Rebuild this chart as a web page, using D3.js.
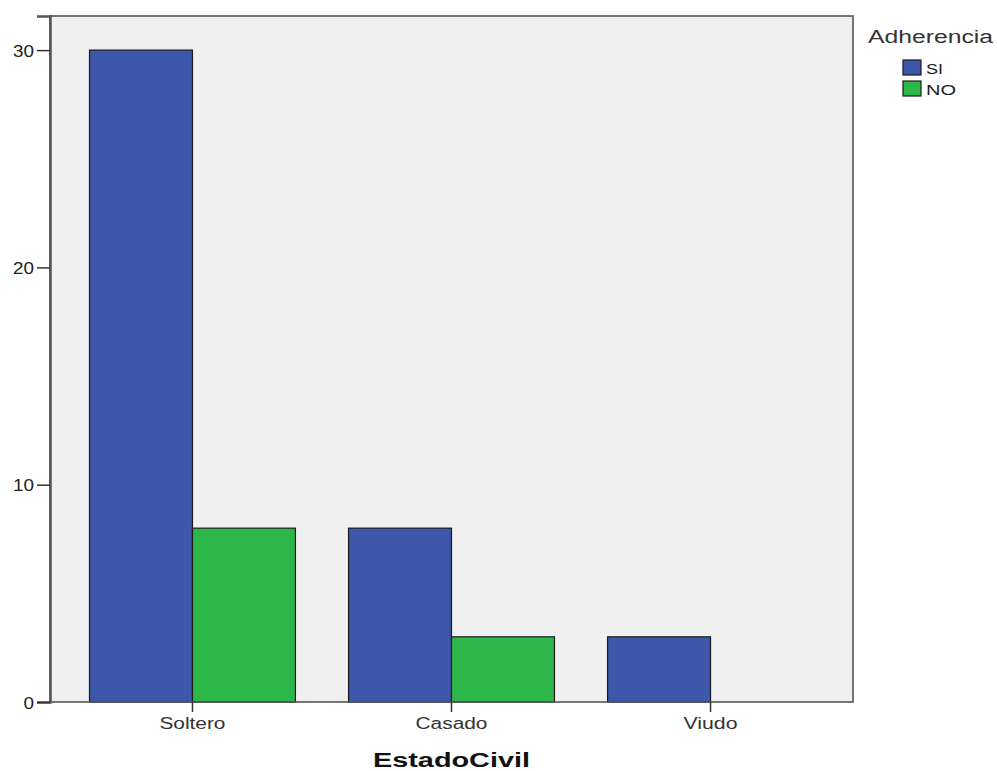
<!DOCTYPE html>
<html><head><meta charset="utf-8">
<script src="https://cdn.jsdelivr.net/npm/d3@7"></script>
<style>body{margin:0;background:#fff;} svg{display:block;font-family:"Liberation Sans",Arial,sans-serif;}</style>
</head><body>
<svg id="c" width="997" height="771"></svg>
<script>
const categories = ["Soltero", "Casado", "Viudo"];
const seriesNames = ["SI", "NO"];
const valuesSI = [30, 8, 3];
const valuesNO = [8, 3, 0];
const yTicks = [0, 10, 20, 30];
const colors = ["#3d57aa", "#2db64a"];

const svg = d3.select("#c");
const L = 50, R = 853, T = 16, B = 702;
const x = d3.scaleBand().domain(categories).range([L, R]).paddingInner(0).paddingOuter(0.05);
const y = d3.scaleLinear().domain([0, 31.57]).range([B, T]);
const groupW = x.bandwidth() * 0.795;
const sub = d3.scaleBand().domain(seriesNames).range([0, groupW]);

svg.append("rect").attr("x", L).attr("y", T).attr("width", R - L).attr("height", B - T)
  .attr("fill", "#f0f0f0");

const data = [];
categories.forEach((c, i) => {
  data.push({c, s: "SI", v: valuesSI[i]});
  data.push({c, s: "NO", v: valuesNO[i]});
});
svg.append("g").selectAll("rect").data(data.filter(d => d.v > 0)).join("rect")
  .attr("x", d => x(d.c) + (x.bandwidth() - groupW) / 2 + sub(d.s))
  .attr("y", d => y(d.v))
  .attr("width", sub.bandwidth())
  .attr("height", d => y(0) - y(d.v))
  .attr("fill", d => colors[seriesNames.indexOf(d.s)])
  .attr("stroke", "#1a1a1a").attr("stroke-width", 1.2);

svg.append("rect").attr("x", L).attr("y", T).attr("width", R - L).attr("height", B - T)
  .attr("fill", "none").attr("stroke", "#555").attr("stroke-width", 1.6);

const fam = "Liberation Sans, Arial, sans-serif";

// Y axis
const ya = svg.append("g").attr("transform", `translate(${L},0)`)
  .call(d3.axisLeft(y).tickValues(yTicks).tickSize(13).tickPadding(3).tickFormat(d3.format("d")));
ya.select(".domain").attr("stroke", "#555").attr("stroke-width", 2.5);
ya.selectAll(".tick line").attr("stroke", "#333").attr("stroke-width", 1.5);
ya.selectAll(".tick text").attr("font-size", 17).attr("fill", "#222").attr("font-family", fam)
  .attr("dy", "0.36em")
  .each(function(d) { const s = String(d); d3.select(this).attr("textLength", s.length * 10.5).attr("lengthAdjust", "spacingAndGlyphs"); });

// X axis
const xa = svg.append("g").attr("transform", `translate(0,${B})`)
  .call(d3.axisBottom(x).tickSize(10).tickPadding(4));
xa.select(".domain").remove();
xa.selectAll(".tick line").attr("stroke", "#333").attr("stroke-width", 1.5);
const xLen = {"Soltero": 66, "Casado": 72, "Viudo": 54};
xa.selectAll(".tick text").attr("font-size", 16).attr("fill", "#333").attr("font-family", fam)
  .attr("y", 0).attr("dy", 0).attr("transform", "translate(0,27)")
  .attr("textLength", d => xLen[d]).attr("lengthAdjust", "spacingAndGlyphs");

svg.append("text").attr("x", 451.5).attr("y", 767).attr("text-anchor", "middle")
  .attr("font-size", 20).attr("font-weight", "bold").attr("fill", "#111")
  .attr("textLength", 157).attr("lengthAdjust", "spacingAndGlyphs")
  .text("EstadoCivil");

// Legend
svg.append("text").attr("x", 868).attr("y", 43).attr("font-size", 18).attr("fill", "#333")
  .attr("textLength", 125).attr("lengthAdjust", "spacingAndGlyphs").text("Adherencia");
const legLen = {"SI": 17, "NO": 30};
seriesNames.forEach((s, i) => {
  const yy = 60 + i * 21;
  svg.append("rect").attr("x", 903).attr("y", yy).attr("width", 18).attr("height", 15)
    .attr("fill", colors[i]).attr("stroke", "#1a1a1a").attr("stroke-width", 1.2);
  svg.append("text").attr("x", 926).attr("y", yy + 14).attr("font-size", 15).attr("fill", "#222")
    .attr("textLength", legLen[s]).attr("lengthAdjust", "spacingAndGlyphs").text(s);
});
</script>
</body></html>
